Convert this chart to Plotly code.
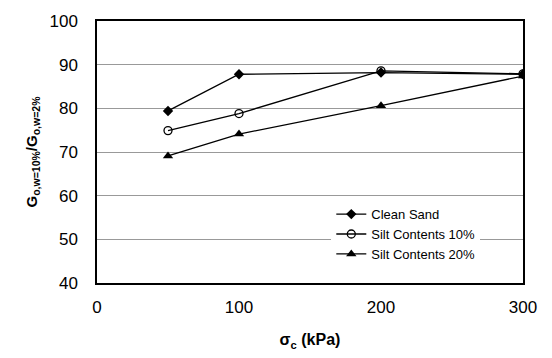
import plotly.graph_objects as go

x_vals = [50, 100, 200, 300]
clean_sand = [79.4, 87.8, 88.2, 87.8]
silt_10 = [74.9, 78.8, 88.6, 87.9]
silt_20 = [69.1, 74.1, 80.6, 87.4]
series_names = ["Clean Sand", "Silt Contents 10%", "Silt Contents 20%"]
x_ticks = [0, 100, 200, 300]
y_ticks = [40, 50, 60, 70, 80, 90, 100]

font = "Liberation Sans, Arial, sans-serif"
fig = go.Figure()
styles = [
    dict(symbol="diamond", size=8, color="black"),
    dict(symbol="circle-open", size=8, color="black", line=dict(width=1.3, color="black")),
    dict(symbol="triangle-up", size=9, color="black"),
]
for name, ys, mk in zip(series_names, [clean_sand, silt_10, silt_20], styles):
    fig.add_trace(go.Scatter(x=x_vals, y=ys, mode="lines+markers", name=name,
                             line=dict(color="black", width=1.3), marker=mk))

fig.update_layout(
    width=552, height=358,
    margin=dict(l=97, r=29, t=14, b=71),
    paper_bgcolor="white", plot_bgcolor="white",
    font=dict(family=font, size=17, color="black"),
    showlegend=True,
    legend=dict(x=0.55, y=0.32, xanchor="left", yanchor="top",
                bgcolor="white", borderwidth=0,
                font=dict(size=13, family=font),
                tracegroupgap=0, itemwidth=30),
)
fig.update_xaxes(range=[0, 300], tickvals=x_ticks, showgrid=False,
                 showline=True, linecolor="black", linewidth=1.5, mirror=True,
                 ticks="", ticklabelstandoff=8, zeroline=False,
                 title=dict(text="<b>σ<sub>c</sub> (kPa)</b>", font=dict(size=16), standoff=18))
fig.update_yaxes(range=[40, 100], tickvals=y_ticks, showgrid=True,
                 gridcolor="#999999", gridwidth=1,
                 showline=True, linecolor="black", linewidth=1.5, mirror=True,
                 ticks="", ticklabelstandoff=14, zeroline=False,
                 title=dict(text="<b>G<sub>o,w=10%</sub>/G<sub>o,w=2%</sub></b>", font=dict(size=15), standoff=8))

fig.write_html("out.html")
